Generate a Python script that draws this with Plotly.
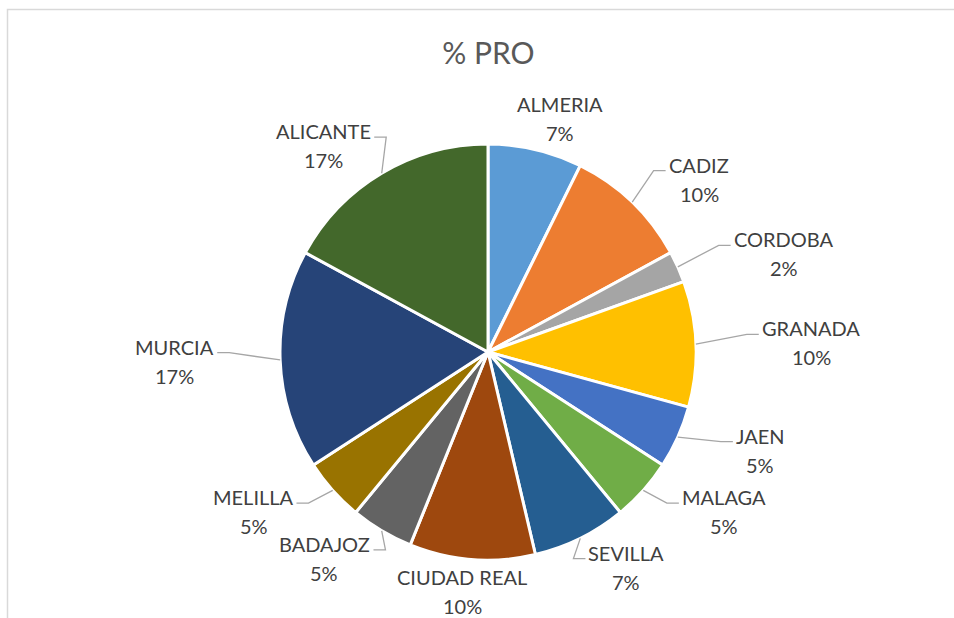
import math
import plotly.graph_objects as go

# ---------------- data ----------------
provinces = ["ALMERIA", "CADIZ", "CORDOBA", "GRANADA", "JAEN", "MALAGA",
             "SEVILLA", "CIUDAD REAL", "BADAJOZ", "MELILLA", "MURCIA", "ALICANTE"]
counts = [3, 4, 1, 4, 2, 2, 3, 4, 2, 2, 7, 7]
title_text = "% PRO"

# ---------------- style ----------------
colors = ["#5B9BD5", "#ED7D31", "#A5A5A5", "#FFC000", "#4472C4", "#70AD47",
          "#255E91", "#9E480E", "#636363", "#997300", "#264478", "#43682B"]
W, H = 954, 618
CX, CY, R = 488, 352, 208          # pie centre / radius in pixels
LBL_A, LBL_B = 275, 240            # label ellipse (horizontal gap to box edge, vertical)
FONT = "Lato"
LBL_SIZE = 20
LBL_COLOR = "#404040"
LINE_COLOR = "#A6A6A6"

# approximate Lato advance widths (em) for width estimation
CW = {"A": .68, "B": .64, "C": .66, "D": .74, "E": .55, "G": .71, "I": .28, "J": .38,
      "L": .49, "M": .88, "N": .75, "O": .78, "R": .62, "S": .53, "T": .56, "U": .72,
      "V": .68, "Z": .60, " ": .19}


def text_w(s):
    return sum(CW.get(c, .62) for c in s) * LBL_SIZE


def px(x):
    return x / W


def py(y):
    return 1 - y / H


fig = go.Figure(go.Pie(
    labels=provinces, values=counts, sort=False, direction="clockwise", rotation=0,
    marker=dict(colors=colors, line=dict(color="white", width=3)),
    textinfo="none", hoverinfo="label+percent", showlegend=False,
    domain=dict(x=[(CX - R) / W, (CX + R) / W], y=[(H - CY - R) / H, (H - CY + R) / H]),
))

annotations = []
shapes = []
total = sum(counts)
cum = 0
for name, v in zip(provinces, counts):
    mid = math.radians((cum + v / 2) / total * 360)
    cum += v
    pct = round(100 * v / total)
    dx, dy = math.sin(mid), -math.cos(mid)
    w = text_w(name)
    bx = CX + (LBL_A + w / 2) * dx
    by = CY + LBL_B * dy
    for txt, yy in ((name, by - 14.5), (f"{pct}%", by + 14.5)):
        annotations.append(dict(x=px(bx), y=py(yy), xref="paper", yref="paper",
                                text=txt, showarrow=False, xanchor="center", yanchor="middle",
                                font=dict(family=FONT, size=LBL_SIZE, color=LBL_COLOR)))
    # leader line from slice edge to label
    Ex, Ey = CX + R * dx, CY + R * dy
    if abs(dx) > 0.25:
        s = 1 if dx > 0 else -1
        Ax = bx - s * (w / 2 + 4)
        Ay = by - 14.5 + 6
        Sx = Ax - s * 12
        if math.hypot(Sx - Ex, Ay - Ey) > 15:
            shapes.append(dict(type="path", xref="paper", yref="paper",
                               path=f"M {px(Ex)} {py(Ey)} L {px(Sx)} {py(Ay)} L {px(Ax)} {py(Ay)}",
                               line=dict(color=LINE_COLOR, width=1.3)))

# chart-area border (top & left visible)
shapes.append(dict(type="rect", xref="paper", yref="paper",
                   x0=px(7.5), x1=1.05, y0=-0.05, y1=py(9.5),
                   line=dict(color="#D9D9D9", width=1.5), layer="below"))

fig.update_layout(
    width=W, height=H, margin=dict(l=0, r=0, t=0, b=0),
    paper_bgcolor="white", plot_bgcolor="white",
    title=dict(text=title_text, x=0.512, y=py(53), xanchor="center", yanchor="middle",
               font=dict(family=FONT, size=30, color="#595959")),
    annotations=annotations, shapes=shapes,
)

fig.write_html("out.html")
